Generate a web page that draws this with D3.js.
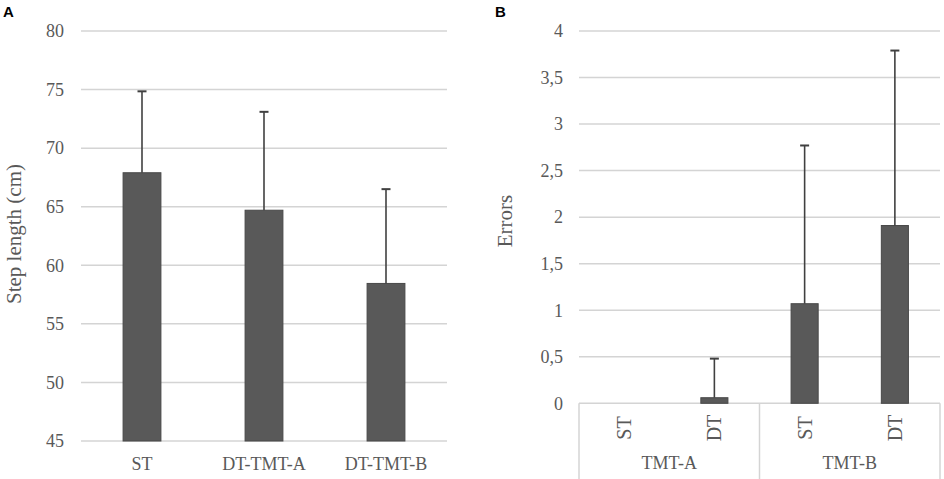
<!DOCTYPE html>
<html lang="en">
<head>
<meta charset="utf-8">
<title>Step length and errors</title>
<script src="https://d3js.org/d3.v7.min.js"></script>
<style>
  body { margin: 0; background: #fff; }
  text { font-family: "Liberation Serif", "Times New Roman", serif; fill: #595959; }
  .panel-label { font-family: "Liberation Sans", Arial, sans-serif; font-weight: bold; fill: #000; }
</style>
</head>
<body>
<svg id="chart" width="944" height="479"></svg>
<script>
// Panel A data
var catA = ["ST", "DT-TMT-A", "DT-TMT-B"];
var meanA = [67.9, 64.7, 58.45];
var sdA = [6.95, 8.4, 8.05];
var ticksA = [45, 50, 55, 60, 65, 70, 75, 80];

// Panel B data
var groupsB = ["TMT-A", "TMT-B"];
var condB = ["ST", "DT"];
var meanB = [0, 0.06, 1.07, 1.91];
var sdB = [0, 0.42, 1.70, 1.88];
var ticksB = [0, 0.5, 1, 1.5, 2, 2.5, 3, 3.5, 4];

var svg = d3.select("#chart");
var gridColor = "#d4d4d4";
var barFill = "#595959";
var errColor = "#404040";

function errorBars(g, data, x, y) {
  var eb = g.selectAll("g.err")
    .data(data.filter(function(d) { return d.sd > 0; }))
    .enter().append("g").attr("class", "err");
  eb.append("line")
    .attr("x1", function(d) { return x(d.key) + x.bandwidth() / 2; })
    .attr("x2", function(d) { return x(d.key) + x.bandwidth() / 2; })
    .attr("y1", function(d) { return y(d.mean); })
    .attr("y2", function(d) { return y(d.mean + d.sd); })
    .attr("stroke", errColor).attr("stroke-width", 1.6);
  eb.append("line")
    .attr("x1", function(d) { return x(d.key) + x.bandwidth() / 2 - 4.5; })
    .attr("x2", function(d) { return x(d.key) + x.bandwidth() / 2 + 4.5; })
    .attr("y1", function(d) { return y(d.mean + d.sd); })
    .attr("y2", function(d) { return y(d.mean + d.sd); })
    .attr("stroke", errColor).attr("stroke-width", 2);
}

// ---------- Panel A ----------
var gA = svg.append("g");
var xA = d3.scaleBand().domain(catA).range([81, 447]).paddingInner(0.69).paddingOuter(0.345);
var yA = d3.scaleLinear().domain([45, 80]).range([441, 31]);

gA.selectAll("line.grid").data(ticksA).enter().append("line")
  .attr("x1", 81).attr("x2", 447)
  .attr("y1", function(d) { return yA(d); }).attr("y2", function(d) { return yA(d); })
  .attr("stroke", gridColor).attr("stroke-width", 1.5);

gA.selectAll("text.tick").data(ticksA).enter().append("text")
  .attr("x", 64).attr("y", function(d) { return yA(d); })
  .attr("dy", "0.35em").attr("text-anchor", "end")
  .style("font-size", "18px")
  .text(function(d) { return d; });

var dataA = catA.map(function(c, i) { return { key: c, mean: meanA[i], sd: sdA[i] }; });

gA.selectAll("rect").data(dataA).enter().append("rect")
  .attr("x", function(d) { return xA(d.key); })
  .attr("width", xA.bandwidth())
  .attr("y", function(d) { return yA(d.mean); })
  .attr("height", function(d) { return yA(45) - yA(d.mean); })
  .attr("fill", barFill).attr("stroke", "#484848").attr("stroke-width", 1);

errorBars(gA, dataA, xA, yA);

gA.selectAll("text.cat").data(catA).enter().append("text")
  .attr("x", function(d) { return xA(d) + xA.bandwidth() / 2; })
  .attr("y", 470).attr("text-anchor", "middle")
  .style("font-size", "18px")
  .text(function(d) { return d; });

gA.append("text")
  .attr("transform", "translate(21,234) rotate(-90)")
  .attr("text-anchor", "middle")
  .style("font-size", "21px")
  .text("Step length (cm)");

gA.append("text").attr("class", "panel-label")
  .attr("x", 3).attr("y", 17).style("font-size", "15px").text("A");

// ---------- Panel B ----------
var gB = svg.append("g");
var keysB = [];
groupsB.forEach(function(g) { condB.forEach(function(c) { keysB.push(g + "|" + c); }); });
var xB = d3.scaleBand().domain(keysB).range([579, 940]).paddingInner(0.70).paddingOuter(0.35);
var yB = d3.scaleLinear().domain([0, 4]).range([403.3, 31]);
var fmtB = function(d) { return String(d).replace(".", ","); };

gB.selectAll("line.grid").data(ticksB).enter().append("line")
  .attr("x1", 579).attr("x2", 940)
  .attr("y1", function(d) { return yB(d); }).attr("y2", function(d) { return yB(d); })
  .attr("stroke", gridColor).attr("stroke-width", 1.5);

gB.selectAll("text.tick").data(ticksB).enter().append("text")
  .attr("x", 563).attr("y", function(d) { return yB(d); })
  .attr("dy", "0.35em").attr("text-anchor", "end")
  .style("font-size", "18px")
  .text(fmtB);

var dataB = keysB.map(function(k, i) { return { key: k, mean: meanB[i], sd: sdB[i] }; });

gB.selectAll("rect").data(dataB.filter(function(d) { return d.mean > 0; })).enter().append("rect")
  .attr("x", function(d) { return xB(d.key); })
  .attr("width", xB.bandwidth())
  .attr("y", function(d) { return yB(d.mean); })
  .attr("height", function(d) { return yB(0) - yB(d.mean); })
  .attr("fill", barFill).attr("stroke", "#484848").attr("stroke-width", 1);

errorBars(gB, dataB, xB, yB);

// category box below the zero line
var x0 = xB.range()[0], stepB = xB.step();
var bounds = d3.range(groupsB.length + 1).map(function(i) { return x0 + i * condB.length * stepB; });
gB.selectAll("line.sep").data(bounds).enter().append("line")
  .attr("x1", function(d) { return d; }).attr("x2", function(d) { return d; })
  .attr("y1", yB(0)).attr("y2", 479)
  .attr("stroke", gridColor).attr("stroke-width", 1.5);

gB.selectAll("text.cond").data(keysB).enter().append("text")
  .attr("transform", function(d) {
    return "translate(" + (xB(d) + xB.bandwidth() / 2 + 7) + ",428) rotate(-90)";
  })
  .attr("text-anchor", "middle")
  .style("font-size", "20px")
  .text(function(d) { return d.split("|")[1]; });

gB.selectAll("text.group").data(groupsB).enter().append("text")
  .attr("x", function(d, i) { return (bounds[i] + bounds[i + 1]) / 2; })
  .attr("y", 469).attr("text-anchor", "middle")
  .style("font-size", "18px")
  .text(function(d) { return d; });

gB.append("text")
  .attr("transform", "translate(512,221) rotate(-90)")
  .attr("text-anchor", "middle")
  .style("font-size", "21px")
  .text("Errors");

gB.append("text").attr("class", "panel-label")
  .attr("x", 495).attr("y", 17).style("font-size", "15px").text("B");
</script>
</body>
</html>
